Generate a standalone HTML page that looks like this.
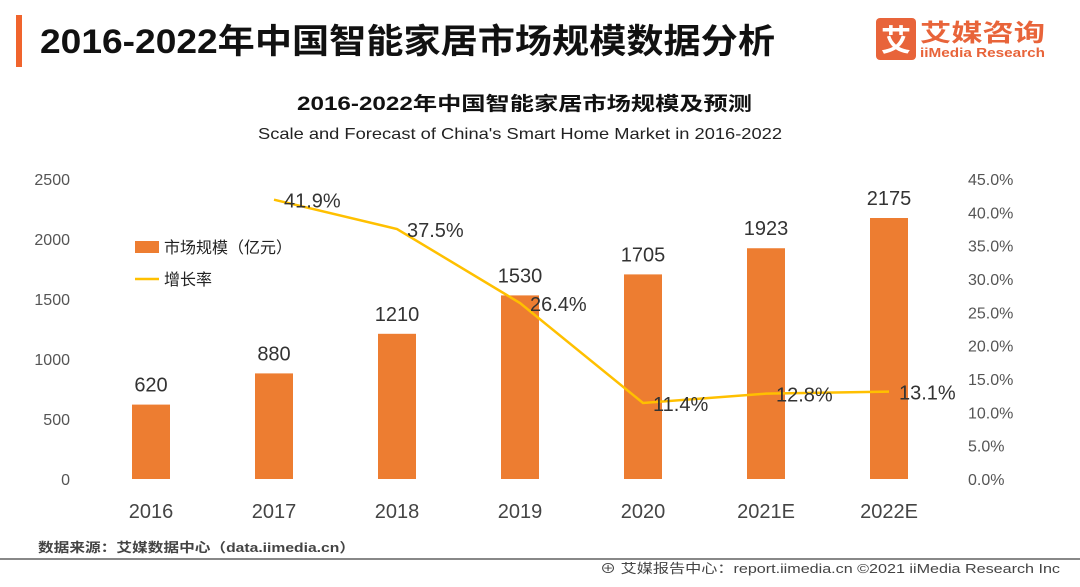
<!DOCTYPE html>
<html><head><meta charset="utf-8"><style>
body{margin:0;background:#fff;}
svg text{font-family:"Liberation Sans","Noto Sans CJK SC",sans-serif;}
</style></head><body>
<svg width="1080" height="582" viewBox="0 0 1080 582">
<rect x="0" y="0" width="1080" height="582" fill="#fff"/>
<rect x="16" y="15" width="6" height="52" fill="#F0642D"/>
<text x="40" y="53" font-size="34" font-weight="bold" fill="#111" textLength="735" lengthAdjust="spacingAndGlyphs">2016-2022年中国智能家居市场规模数据分析</text>
<g>
<rect x="876" y="18" width="40" height="42" rx="4" fill="#E8643A"/>
<text x="896" y="51" font-size="30" font-weight="bold" fill="#fff" text-anchor="middle">艾</text>
<text x="920" y="41" font-size="24" font-weight="bold" fill="#E8643A" textLength="125" lengthAdjust="spacingAndGlyphs">艾媒咨询</text>
<text x="920" y="57" font-size="13" font-weight="bold" fill="#E8643A" textLength="125" lengthAdjust="spacingAndGlyphs">iiMedia Research</text>
</g>
<text x="297" y="110" font-size="19" font-weight="bold" fill="#111" textLength="455" lengthAdjust="spacingAndGlyphs">2016-2022年中国智能家居市场规模及预测</text>
<text x="258" y="139" font-size="16" fill="#222" textLength="524" lengthAdjust="spacingAndGlyphs">Scale and Forecast of China's Smart Home Market in 2016-2022</text>
<g id="plot"></g>
<g>
<rect x="135" y="241" width="24" height="12" fill="#ED7D31"/>
<text x="164" y="253" font-size="16" fill="#222">市场规模（亿元）</text>
<line x1="135" y1="279" x2="159" y2="279" stroke="#FFC000" stroke-width="2.5"/>
<text x="164" y="285" font-size="16" fill="#222">增长率</text>
</g>
<text x="38" y="552" font-size="13" font-weight="bold" fill="#444" textLength="317" lengthAdjust="spacingAndGlyphs">数据来源：艾媒数据中心（data.iimedia.cn）</text>
<line x1="0" y1="559" x2="1080" y2="559" stroke="#888" stroke-width="2"/>
<text x="600" y="573" font-size="13" fill="#444" textLength="460" lengthAdjust="spacingAndGlyphs">⊕ 艾媒报告中心：report.iimedia.cn  ©2021  iiMedia Research  Inc</text>
</svg>
<script>
const categories=["2016","2017","2018","2019","2020","2021E","2022E"];
const marketSize=[620,880,1210,1530,1705,1923,2175];
const growthRate=[null,41.9,37.5,26.4,11.4,12.8,13.1];
const leftTicks=[0,500,1000,1500,2000,2500];
const rightTicks=[0,5,10,15,20,25,30,35,40,45];
const NS="http://www.w3.org/2000/svg";
const g=document.getElementById('plot');
const y0=479,yTop=179,x0=151,step=123,bw=38;
const yL=v=>y0-(v/2500)*(y0-yTop);
const yR=v=>y0-(v/45)*(y0-yTop);
const xC=i=>x0+i*step;
function mk(t,a,p){const e=document.createElementNS(NS,t);for(const k in a)e.setAttribute(k,a[k]);(p||g).appendChild(e);return e;}
leftTicks.forEach(v=>{const t=mk('text',{x:70,y:yL(v)+6,'font-size':16,fill:'#555','text-anchor':'end'});t.textContent=v;

});
rightTicks.forEach(v=>{const t=mk('text',{x:968,y:yR(v)+6,'font-size':16,fill:'#555'});t.textContent=v.toFixed(1)+'%';

});
categories.forEach((c,i)=>{
const v=marketSize[i];
const r=mk('rect',{x:xC(i)-bw/2,y:yL(v),width:bw,height:y0-yL(v),fill:'#ED7D31'});


const l=mk('text',{x:xC(i),y:yL(v)-13,'font-size':20,fill:'#333','text-anchor':'middle'});l.textContent=v;


const x=mk('text',{x:xC(i),y:518,'font-size':20,fill:'#444','text-anchor':'middle'});x.textContent=c;


});
let pts=[];growthRate.forEach((v,i)=>{if(v!=null)pts.push(xC(i)+','+yR(v));});
const pl=mk('polyline',{points:pts.join(' '),fill:'none',stroke:'#FFC000','stroke-width':2.5});


growthRate.forEach((v,i)=>{if(v==null)return;
const t=mk('text',{x:xC(i)+10,y:yR(v)+8,'font-size':20,fill:'#333'});t.textContent=v.toFixed(1)+'%';

});
</script>
</body></html>
